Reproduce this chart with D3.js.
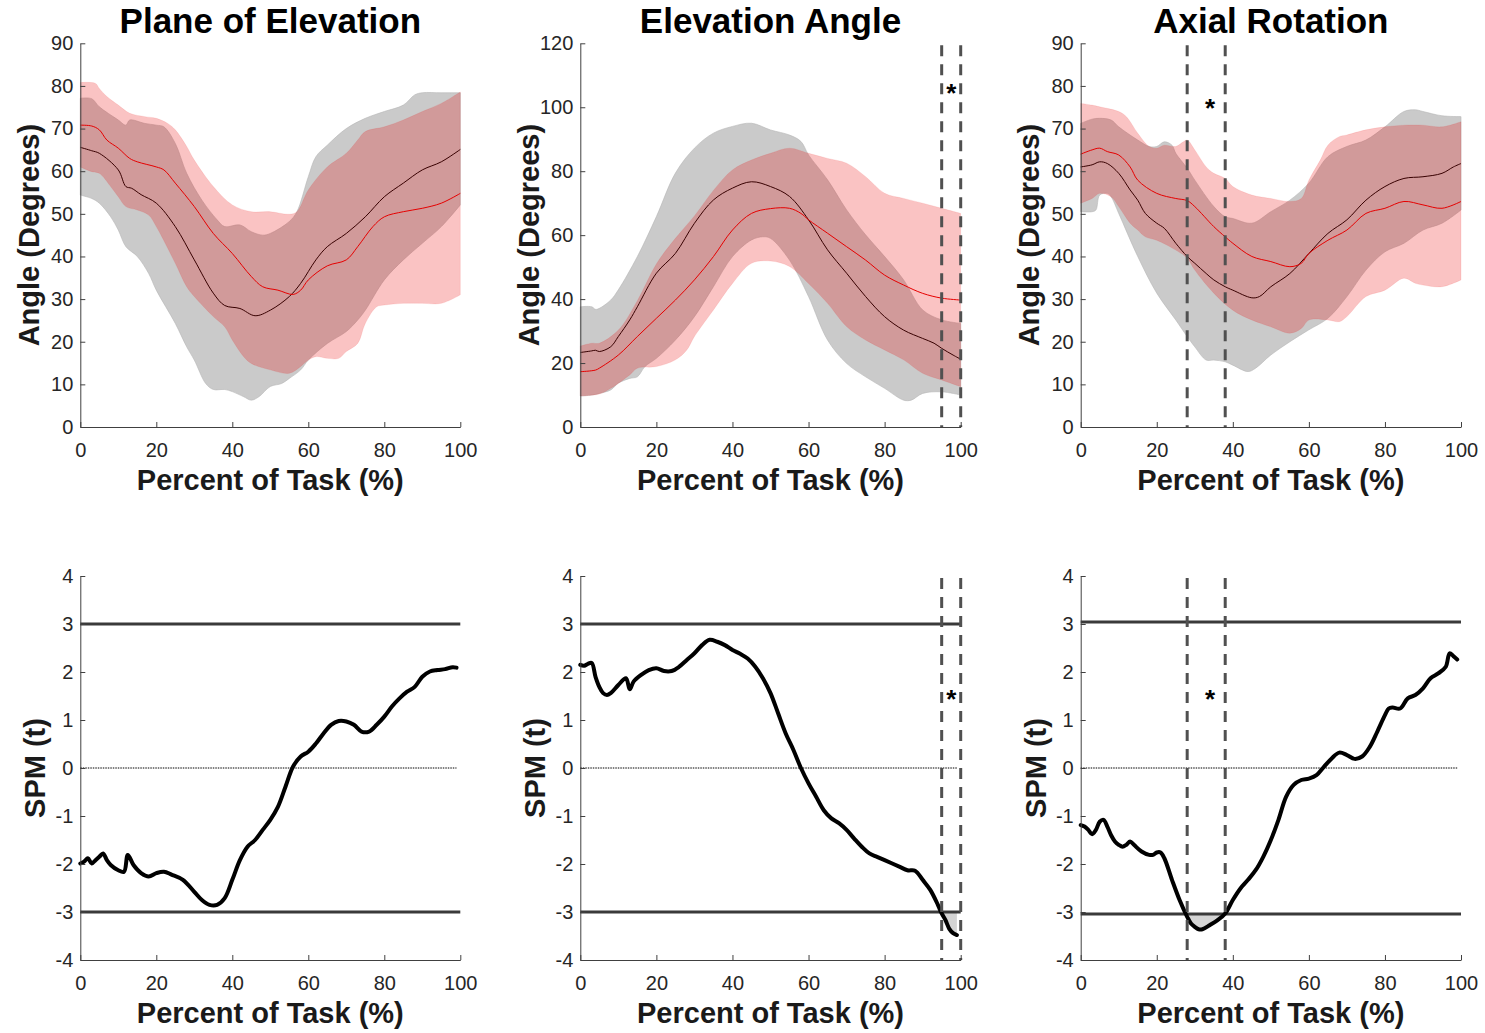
<!DOCTYPE html>
<html><head><meta charset="utf-8">
<script src="https://cdn.jsdelivr.net/npm/d3@7"></script>
<style>
body{margin:0;background:#fff}
svg{display:block}
text{font-family:"Liberation Sans",Arial,Helvetica,sans-serif}
</style>
</head><body>
<svg id="c" width="1485" height="1033"></svg>
<script>
// ---------------- DATA ----------------
const titles = ["Plane of Elevation", "Elevation Angle", "Axial Rotation"];
const topYMax = [90, 120, 90];
const topYTicks = [[0,10,20,30,40,50,60,70,80,90],[0,20,40,60,80,100,120],[0,10,20,30,40,50,60,70,80,90]];
const xTicks = [0,20,40,60,80,100];
const spmTicks = [-4,-3,-2,-1,0,1,2,3,4];
const thresholds = [3.0, 3.0, 3.04];
const sigRegions = [[], [[95,100]], [[28,38]]];
const starTopY = [null, 106.2, 76.2];
const starTopX = [null, 97.5, 34];
const starBotY = [null, 1.57, 1.57];

// Plane of Elevation
const poeBlackMean = [[0,65.6],[3,64.8],[5,64.2],[10,60.3],[12,56.4],[13.5,56],[16,54.5],[20,52.5],[25,47],[30,39.2],[35,31.4],[38,28.5],[42,27.8],[46,26.1],[50,27.4],[55,30.6],[58,33.7],[62,39.2],[65,42.3],[70,45.4],[75,49.3],[80,54],[85,57.2],[90,60.3],[95,62.2],[100,65.1]];
const poeRedMean = [[0,70.8],[3,70.6],[5,69.7],[7,67.3],[10,65.4],[13,63],[15,62.2],[20,61],[22,60.3],[25,57.2],[30,51.7],[35,45.4],[40,40.7],[45,35.3],[48,32.9],[52,32.1],[56,31.1],[58,32.1],[60,34.5],[65,37.8],[70,39.2],[73,42.3],[77,47],[80,49.3],[85,50.5],[90,51.3],[95,52.5],[100,54.8]];
const poeGrayUpper = [[0,77.1],[3,77],[5,75.1],[10,72],[12,70.8],[13,72],[17,71.2],[20,70.8],[22,70.4],[25,66.5],[28,59.5],[32,53.2],[36,48.6],[38,47],[42,47.4],[45,45.8],[48,45],[50,45.4],[55,48.2],[57,50.5],[60,58.7],[62,63.4],[65,66.1],[70,70],[75,72.4],[80,74],[85,75.5],[88,77.9],[90,78.4],[95,78.4],[100,78.4]];
const poeGrayLower = [[0,54.4],[3,53.6],[5,52.5],[8,49.3],[10,46.2],[12,42.3],[15,40],[18,36],[20,32.1],[25,24.3],[28,18.8],[30,15.7],[33,10.2],[35,8.8],[38,8.8],[40,8.3],[43,7.1],[45,6.3],[47,7.1],[50,9.5],[53,10.2],[55,11.4],[58,13.4],[60,15.7],[65,19.6],[70,22.4],[73,25.1],[75,27.4],[80,34.5],[85,39.2],[90,43.1],[95,47],[100,52.1]];
const poeRedUpper = [[0,80.8],[4,80.6],[5,79.4],[7,77.5],[10,75.5],[13,73.6],[17,72.8],[20,72.4],[23,71.2],[25,69.7],[28,65.8],[30,62.6],[35,56.4],[40,52.1],[45,50.5],[50,50.5],[55,49.9],[57,50.5],[60,55.6],[65,61],[70,64.2],[73,67.3],[75,69.3],[80,70.4],[85,72],[90,74],[95,75.9],[100,78.6]];
const poeRedLower = [[0,61],[3,59.9],[5,59.5],[8,56.4],[10,54],[12,51.7],[15,50.9],[18,49.7],[20,47],[25,38.4],[28,32.9],[30,30.6],[35,25.9],[38,23.5],[40,20.4],[43,16.5],[45,14.9],[50,13.4],[55,12.6],[58,14.2],[60,15.7],[62,16.5],[65,16.1],[68,16.1],[70,17.7],[73,19.6],[75,24.3],[78,28.2],[80,28.6],[85,29],[90,29],[95,29],[100,31]];

// Elevation Angle
const eaBlackMean = [[0,23.3],[3,23.8],[4,24],[5,23.6],[8,25.1],[10,28.3],[13,33.5],[15,37.6],[20,48.1],[25,54.3],[30,63.7],[35,71],[40,74.7],[45,76.7],[50,75.2],[55,72.1],[60,64.8],[65,55.4],[70,48.1],[75,40.8],[80,34.5],[85,30.3],[90,27.7],[93,26.2],[95,24.6],[98,22.5],[100,21.2]];
const eaRedMean = [[0,17.3],[4,17.8],[5,18.4],[10,22.5],[15,28.3],[20,34],[25,39.7],[30,46],[35,53.3],[40,61.6],[45,66.8],[50,68.3],[55,68.4],[58,66.8],[60,64.8],[65,60.6],[70,56.4],[75,52.2],[80,47.5],[85,44.4],[90,41.8],[95,40.3],[100,39.7]];
const eaGrayUpper = [[0,37.6],[3,37.6],[4,36.8],[5,37.1],[8,39.7],[10,42.9],[15,53.3],[20,65.8],[25,79.4],[30,87.2],[35,91.9],[40,94],[45,95],[50,92.9],[55,91.3],[58,89.3],[60,85.1],[65,77.3],[70,67.9],[75,60.1],[80,53.3],[85,46],[90,36.6],[95,33.5],[100,32.4]];
const eaGrayLower = [[0,9.7],[3,10],[5,10.5],[8,11.6],[10,13.7],[13,15.2],[15,15.7],[17,18.9],[20,21.5],[25,27.2],[30,34.5],[35,43.9],[40,53.3],[45,58.5],[48,59.5],[50,59],[55,52.2],[60,40.8],[65,27.2],[70,19.9],[75,15.7],[80,12.1],[85,8.4],[87,8.4],[90,10.5],[95,11],[100,10]];
const eaRedUpper = [[0,25.3],[3,26.2],[5,26.2],[10,30.3],[15,39.5],[20,51],[25,59],[30,66],[35,74],[40,80.4],[45,83.5],[50,85.6],[55,87.2],[60,85.6],[65,84],[70,82.5],[75,78.3],[80,73.1],[85,71.5],[90,70],[95,68.4],[100,66.8]];
const eaRedLower = [[0,9.7],[5,10.3],[8,12.1],[10,13.7],[13,16.3],[15,18.4],[20,18.9],[25,21],[28,24.1],[30,28.3],[35,36.6],[40,44.9],[45,51.2],[50,51.9],[55,50.2],[60,44.9],[65,38.7],[70,31.4],[75,27.2],[80,24.1],[85,21],[90,16.8],[95,14.7],[100,12.6]];

// Axial Rotation
const arBlackMean = [[0,61],[3,61.5],[5,62.2],[7,61.8],[10,59.5],[13,55.6],[15,53.2],[17,50.1],[20,47.8],[22,46.6],[25,43.1],[28,40],[30,38.4],[33,36],[35,34.5],[38,32.9],[40,32.1],[45,30.3],[47,30.6],[50,32.9],[55,36],[60,40.7],[65,45.4],[70,48.6],[75,53.2],[80,56.4],[85,58.3],[90,58.7],[95,59.5],[98,61],[100,61.8]];
const arRedMean = [[0,64],[3,65],[5,65.4],[7,64.6],[10,63.8],[13,61],[15,57.9],[20,54.8],[25,53.6],[28,53.1],[30,51.7],[35,47],[38,44.6],[40,43.1],[45,40],[50,38.8],[55,37.6],[58,38.4],[60,40.7],[65,43.8],[70,46.2],[75,50.1],[80,51.3],[85,52.9],[90,52.1],[95,51.3],[100,52.9]];
const arGrayUpper = [[0,71.2],[3,72.2],[5,72.4],[8,72],[10,70.4],[15,67.3],[18,65.8],[20,65.8],[22,66.9],[24,66.1],[25,64.2],[28,60.7],[30,57.9],[35,51.7],[38,49.3],[40,48.9],[45,47.8],[50,50.5],[55,53.2],[60,57.2],[65,63.4],[70,65.8],[75,67.3],[80,70.4],[85,74],[88,74.4],[90,74],[95,73],[100,72.8]];
const arGrayLower = [[0,50.5],[3,50.5],[4,50.9],[5,54.4],[7,54.8],[8,54],[10,50.1],[15,40],[20,31.4],[25,25.1],[28,21.2],[30,18.8],[33,15.7],[35,15.7],[38,15.3],[40,14.5],[44,13],[46,13.8],[50,16.9],[55,20],[60,22.8],[65,25.5],[70,30.6],[75,36.8],[80,41.1],[85,43.1],[90,46.2],[95,47.8],[100,50.9]];
const arRedUpper = [[0,75.9],[3,75.5],[5,75.1],[10,74],[12,72.8],[15,68.9],[18,65.8],[20,65.4],[22,66.1],[25,65.8],[27,66.9],[28,67.3],[30,65],[33,61],[35,59.5],[38,58.3],[40,56.4],[45,54.4],[50,53.6],[55,52.9],[58,53.6],[60,57.9],[63,62.6],[65,66.1],[68,68.1],[70,68.5],[75,69.7],[80,70.4],[85,70.8],[90,70.8],[95,70.4],[100,71.6]];
const arRedLower = [[0,52.5],[3,53.6],[5,54.8],[8,54],[10,51.7],[13,47.8],[15,46.2],[17,44.6],[20,43.8],[25,41.5],[28,39.6],[30,36.8],[35,31.4],[40,27.4],[45,25.1],[50,23.5],[55,22],[58,23.1],[60,25.1],[65,25.1],[68,24.7],[70,25.9],[75,30.6],[80,32.1],[85,34.9],[88,33.7],[90,33.3],[95,32.9],[100,34.5]];

// SPM t curves
const poeSpm = [[0,-1.99],[1,-1.95],[2,-1.88],[3,-1.99],[4,-1.92],[5,-1.85],[6,-1.78],[7,-1.92],[8,-2.02],[10,-2.13],[11.5,-2.16],[12.5,-1.81],[14,-2.02],[16,-2.19],[18,-2.26],[20,-2.19],[22,-2.16],[24,-2.22],[27,-2.33],[30,-2.58],[32,-2.75],[34,-2.85],[36,-2.85],[38,-2.71],[40,-2.33],[42,-1.92],[44,-1.64],[46,-1.5],[48,-1.29],[50,-1.08],[52,-0.81],[54,-0.39],[56,0.03],[58,0.24],[60,0.34],[62,0.51],[64,0.72],[66,0.9],[68,0.98],[70,0.97],[72,0.9],[74,0.76],[76,0.76],[78,0.9],[80,1.07],[82,1.28],[84,1.45],[86,1.59],[88,1.69],[90,1.9],[92,2.01],[94,2.04],[96,2.06],[98,2.1],[99,2.09]];
const eaSpm = [[0,2.15],[1,2.13],[2,2.17],[3,2.19],[4,1.9],[5,1.69],[6,1.56],[7,1.52],[8,1.56],[10,1.73],[12,1.87],[13,1.64],[14,1.8],[16,1.94],[18,2.04],[20,2.08],[22,2.02],[24,2.02],[26,2.11],[28,2.25],[30,2.39],[32,2.56],[34,2.67],[36,2.63],[38,2.56],[40,2.46],[42,2.38],[44,2.28],[46,2.11],[48,1.87],[50,1.56],[52,1.14],[54,0.72],[56,0.38],[58,0],[60,-0.32],[62,-0.6],[64,-0.88],[66,-1.05],[68,-1.15],[70,-1.29],[72,-1.47],[74,-1.64],[76,-1.78],[78,-1.85],[80,-1.92],[82,-1.99],[84,-2.06],[86,-2.13],[88,-2.14],[90,-2.33],[92,-2.54],[94,-2.85],[95,-3.03],[96,-3.17],[97,-3.35],[98,-3.44],[99,-3.48]];
const arSpm = [[0,-1.19],[1,-1.22],[2,-1.29],[3,-1.38],[4,-1.29],[5,-1.12],[6,-1.08],[7,-1.22],[8,-1.4],[9,-1.53],[10,-1.6],[11,-1.64],[12,-1.6],[13,-1.53],[14,-1.6],[16,-1.74],[18,-1.81],[19,-1.81],[20,-1.76],[21,-1.76],[22,-1.88],[24,-2.33],[26,-2.75],[28,-3.1],[29,-3.24],[30,-3.31],[31,-3.36],[32,-3.36],[34,-3.27],[36,-3.17],[38,-3.03],[40,-2.75],[42,-2.51],[44,-2.33],[46,-2.13],[48,-1.85],[50,-1.5],[52,-1.08],[54,-0.6],[56,-0.35],[58,-0.25],[60,-0.22],[62,-0.15],[64,0.03],[66,0.2],[68,0.32],[70,0.27],[72,0.19],[74,0.24],[76,0.44],[78,0.76],[80,1.1],[81,1.24],[82,1.26],[84,1.24],[86,1.45],[88,1.52],[90,1.66],[92,1.87],[94,1.97],[96,2.11],[97,2.39],[98,2.33],[99,2.26]];

const topData = [
  {grayU: poeGrayUpper, grayL: poeGrayLower, redU: poeRedUpper, redL: poeRedLower, black: poeBlackMean, red: poeRedMean},
  {grayU: eaGrayUpper, grayL: eaGrayLower, redU: eaRedUpper, redL: eaRedLower, black: eaBlackMean, red: eaRedMean},
  {grayU: arGrayUpper, grayL: arGrayLower, redU: arRedUpper, redL: arRedLower, black: arBlackMean, red: arRedMean}
];
const spmData = [poeSpm, eaSpm, arSpm];

// ---------------- LAYOUT ----------------
const svg = d3.select("#c");
const colX = [[80.3, 460.3], [580.3, 960.7], [1080.7, 1461]];
const topRange = [427, 43.3];
const botRange = [960, 576];
const axisColor = "#404040";
const tickColor = "#262626";
const curve = d3.curveCatmullRom.alpha(0.5);

function styleAxis(g) {
  g.select(".domain").attr("stroke", axisColor).attr("stroke-width", 1);
  g.selectAll(".tick line").attr("stroke", axisColor);
  g.selectAll(".tick text").attr("fill", tickColor).style("font-size", "20px")
    .style("font-family", '"Liberation Sans",Arial,sans-serif');
}

function drawAxes(x, y, yTicks, yRange, panelIdx, yLabel, ylabOffset) {
  const [x0, x1] = x.range();
  svg.append("g").attr("transform", `translate(0,${yRange[0]})`)
    .call(d3.axisBottom(x).tickValues(xTicks).tickSizeInner(-5).tickSizeOuter(0).tickPadding(15.8).tickFormat(d => String(d)))
    .call(styleAxis);
  svg.append("g").attr("transform", `translate(${x0},0)`)
    .call(d3.axisLeft(y).tickValues(yTicks).tickSizeInner(-5).tickSizeOuter(0).tickPadding(7).tickFormat(d => String(d)))
    .call(styleAxis);
  // x label
  svg.append("text").attr("x", (x0 + x1) / 2).attr("y", yRange[0] + 63)
    .attr("text-anchor", "middle").style("font-size", "29px").style("font-weight", "bold")
    .attr("fill", "#1a1a1a").text("Percent of Task (%)");
  // y label
  const cy = (yRange[0] + yRange[1]) / 2;
  svg.append("text").attr("transform", `translate(${x0 - ylabOffset},${cy}) rotate(-90)`)
    .attr("text-anchor", "middle").style("font-size", "29px").style("font-weight", "bold")
    .attr("fill", "#1a1a1a").text(yLabel);
}

function bandPath(x, y, upper, lower) {
  const line = d3.line().x(d => x(d[0])).y(d => y(d[1])).curve(curve);
  const up = line(upper);
  const lo = line(lower.slice().reverse());
  return up + "L" + lo.slice(1) + "Z";
}

function drawSig(x, yRange, regions) {
  regions.forEach(r => {
    r.forEach(v => {
      svg.append("line").attr("x1", x(v)).attr("x2", x(v))
        .attr("y1", yRange[1] + 2).attr("y2", yRange[0])
        .attr("stroke", "#505050").attr("stroke-width", 3)
        .attr("stroke-dasharray", "11,8");
    });
  });
}

function star(xv, yv) {
  svg.append("text").attr("x", xv).attr("y", yv).attr("dy", "0.575em")
    .attr("text-anchor", "middle").style("font-size", "26px").style("font-weight", "bold")
    .attr("fill", "#000").text("*");
}

for (let i = 0; i < 3; i++) {
  const x = d3.scaleLinear().domain([0, 100]).range(colX[i]);
  // ---------- top panel ----------
  const y = d3.scaleLinear().domain([0, topYMax[i]]).range(topRange);
  const d = topData[i];
  const line = d3.line().x(p => x(p[0])).y(p => y(p[1])).curve(curve);
  svg.append("path").attr("d", bandPath(x, y, d.grayU, d.grayL)).attr("fill", "#cacaca")
    .attr("stroke", "#b5b5b5").attr("stroke-width", 0.6);
  svg.append("path").attr("d", line(d.black)).attr("fill", "none").attr("stroke", "#000").attr("stroke-width", 1);
  svg.append("path").attr("d", bandPath(x, y, d.redU, d.redL)).attr("fill", "rgb(235,0,0)").attr("fill-opacity", 0.235)
    .attr("stroke", "rgb(235,0,0)").attr("stroke-opacity", 0.15).attr("stroke-width", 0.6);
  svg.append("path").attr("d", line(d.red)).attr("fill", "none").attr("stroke", "#e60000").attr("stroke-width", 1);
  drawSig(x, topRange, sigRegions[i]);
  if (starTopY[i] !== null) star(x(starTopX[i]), y(starTopY[i]));
  drawAxes(x, y, topYTicks[i], topRange, i, "Angle (Degrees)", 41.5);
  svg.append("text").attr("x", (colX[i][0] + colX[i][1]) / 2).attr("y", 33)
    .attr("text-anchor", "middle").style("font-size", "35px").style("font-weight", "bold")
    .attr("fill", "#000").text(titles[i]);

  // ---------- bottom panel ----------
  const yb = d3.scaleLinear().domain([-4, 4]).range(botRange);
  const spm = spmData[i];
  const thr = thresholds[i];
  const lineB = d3.line().x(p => x(p[0])).y(p => yb(p[1])).curve(curve);
  // shaded supra-threshold clusters
  sigRegions[i].forEach(r => {
    const pts = spm.filter(p => p[0] >= r[0] - 0.5 && p[0] <= r[1]);
    const area = d3.area().x(p => x(p[0])).y0(yb(-thr)).y1(p => yb(Math.min(p[1], -thr))).curve(curve);
    svg.append("path").attr("d", area(pts)).attr("fill", "#d4d4d4");
  });
  [thr, -thr].forEach(t => {
    svg.append("line").attr("x1", x(0)).attr("x2", x(100)).attr("y1", yb(t)).attr("y2", yb(t))
      .attr("stroke", "#3a3a3a").attr("stroke-width", 3);
  });
  svg.append("line").attr("x1", x(0)).attr("x2", x(d3.max(spm, p => p[0]))).attr("y1", yb(0)).attr("y2", yb(0))
    .attr("stroke", "#000").attr("stroke-width", 1).attr("stroke-dasharray", "1.5,1");
  svg.append("path").attr("d", lineB(spm)).attr("fill", "none").attr("stroke", "#000")
    .attr("stroke-width", 4).attr("stroke-linejoin", "round").attr("stroke-linecap", "round");
  drawSig(x, botRange, sigRegions[i]);
  if (starBotY[i] !== null) star(x(starTopX[i]), yb(starBotY[i]));
  drawAxes(x, yb, spmTicks, botRange, i, "SPM (t)", 35);
}
</script>
</body></html>
